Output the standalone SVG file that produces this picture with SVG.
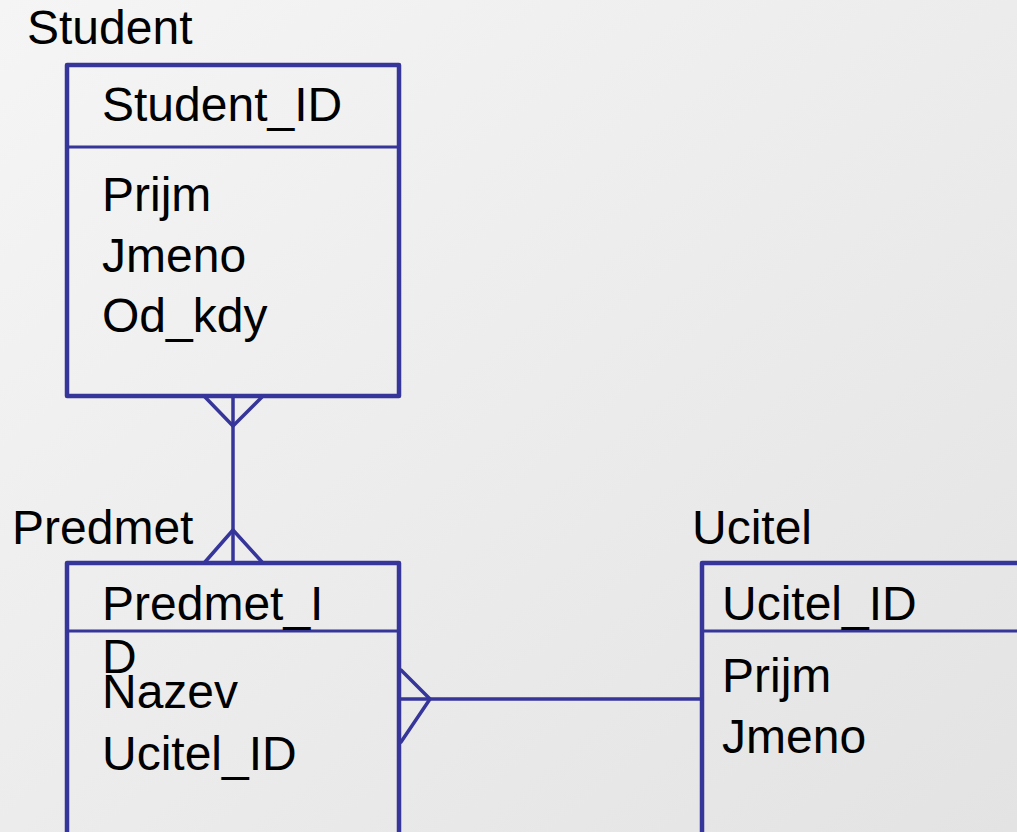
<svg xmlns="http://www.w3.org/2000/svg" width="1017" height="832" viewBox="0 0 1017 832">
  <defs>
    <linearGradient id="bg" x1="0" y1="0" x2="1" y2="1">
      <stop offset="0" stop-color="#f5f5f5"/>
      <stop offset="1" stop-color="#e3e3e3"/>
    </linearGradient>
    <style>
      .box { fill: none; stroke: #35359a; stroke-width: 4.5; stroke-linejoin: round; }
      .div { fill: none; stroke: #35359a; stroke-width: 3; }
      .conn { fill: none; stroke: #35359a; stroke-width: 3.5; stroke-linecap: round; stroke-linejoin: round; }
      text { font-family: "Liberation Sans", Arial, sans-serif; font-size: 48px; fill: #000; }
    </style>
  </defs>

  <rect width="1017" height="832" fill="url(#bg)"/>

  <!-- entity: Student -->
  <g id="student">
    <text x="27" y="44">Student</text>
    <rect class="box" x="67" y="65" width="332" height="331"/>
    <line class="div" x1="67" y1="147" x2="399" y2="147"/>
    <text x="102" y="121">Student_ID</text>
    <text x="102" y="211">Prijm</text>
    <text x="102" y="272">Jmeno</text>
    <text x="102" y="332">Od_kdy</text>
  </g>

  <!-- entity: Predmet -->
  <g id="predmet">
    <text x="12" y="544">Predmet</text>
    <rect class="box" x="67" y="563" width="332" height="300"/>
    <line class="div" x1="67" y1="631" x2="399" y2="631"/>
    <text x="102" y="620">Predmet_I</text>
    <text x="102" y="673">D</text>
    <text x="102" y="708">Nazev</text>
    <text x="102" y="770">Ucitel_ID</text>
  </g>

  <!-- entity: Ucitel -->
  <g id="ucitel">
    <text x="692" y="544">Ucitel</text>
    <rect class="box" x="702" y="563" width="400" height="300"/>
    <line class="div" x1="702" y1="631" x2="1102" y2="631"/>
    <text x="722" y="620">Ucitel_ID</text>
    <text x="722" y="692">Prijm</text>
    <text x="722" y="753">Jmeno</text>
  </g>

  <!-- relationships -->
  <g id="connectors">
    <!-- Student many : many Predmet -->
    <line class="conn" x1="233" y1="397" x2="233" y2="562"/>
    <polyline class="conn" points="205,397 233,426 262,397"/>
    <polyline class="conn" points="205,562 233,530 262,562"/>
    <!-- Predmet many : one Ucitel -->
    <line class="conn" x1="400" y1="699" x2="702" y2="699"/>
    <polyline class="conn" points="401,670 430,699 401,742"/>
  </g>
</svg>
